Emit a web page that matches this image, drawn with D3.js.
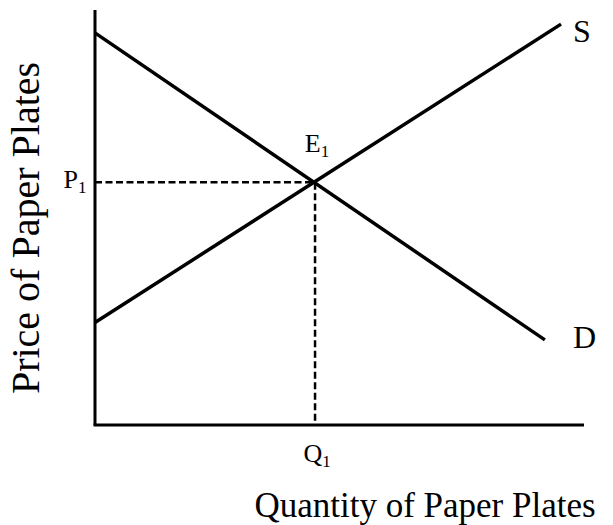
<!DOCTYPE html>
<html>
<head>
<meta charset="utf-8">
<script src="https://cdn.jsdelivr.net/npm/d3@7/dist/d3.min.js"></script>
<style>
  body { margin: 0; background: #fff; }
  text { font-family: 'Liberation Serif', 'Times New Roman', serif; fill: #000; }
</style>
</head>
<body>
<div id="chart"></div>
<script>
// curves in data units (0-100 on both axes)
const demand = [[0, 94.5], [92, 20.5]]
const supply = [[0, 24.7], [95.3, 96.6]]
const equilibrium = [45, 58.5]
const curveLabels = ['S', 'D']
const pointLabel = 'E'
const priceLabel = 'P'
const qtyLabel = 'Q'
const xAxisLabel = 'Quantity of Paper Plates'
const yAxisLabel = 'Price of Paper Plates'

const width = 613
const height = 525
const margin = { top: 10, right: 29, bottom: 100, left: 95 }

const x = d3.scaleLinear()
  .domain([0, 100])
  .range([margin.left, width - margin.right])

const y = d3.scaleLinear()
  .domain([0, 100])
  .range([height - margin.bottom, margin.top])

const svg = d3.select('#chart').append('svg')
  .attr('width', width)
  .attr('height', height)

const line = d3.line().x(d => x(d[0])).y(d => y(d[1]))

// axes
svg.append('line')
  .attr('x1', x(0)).attr('y1', y(0))
  .attr('x2', x(0)).attr('y2', y(100))
  .attr('stroke', '#000').attr('stroke-width', 3)
svg.append('line')
  .attr('x1', x(0) - 1.5).attr('y1', y(0))
  .attr('x2', x(100)).attr('y2', y(0))
  .attr('stroke', '#000').attr('stroke-width', 3)

// dashed guides
svg.append('path')
  .attr('d', line([[0, equilibrium[1]], equilibrium, [equilibrium[0], 0]]))
  .attr('fill', 'none')
  .attr('stroke', '#000')
  .attr('stroke-width', 2.5)
  .attr('stroke-dasharray', '7,3.5')

svg.selectAll('.curve')
  .data([supply, demand]).enter()
  .append('path')
  .attr('class', 'curve')
  .attr('d', d => line(d))
  .attr('fill', 'none')
  .attr('stroke', '#000')
  .attr('stroke-width', 3.5)

// curve labels
svg.selectAll('.clabel')
  .data([supply, demand]).enter()
  .append('text')
  .attr('class', 'clabel')
  .attr('x', 573)
  .attr('y', (d, i) => y(d[1][1]) + (i === 0 ? 18 : 8))
  .attr('font-size', 32)
  .text((d, i) => curveLabels[i])

function subLabel (txt, px, py, anchor) {
  const t = svg.append('text')
    .attr('x', px).attr('y', py)
    .attr('font-size', 26)
    .attr('text-anchor', anchor)
  t.append('tspan').text(txt)
  t.append('tspan').attr('font-size', 17).attr('dy', 5).text('1')
}

subLabel(pointLabel, x(equilibrium[0]) + 2, y(equilibrium[1]) - 30, 'middle')
subLabel(priceLabel, x(0) - 20, y(equilibrium[1]) + 6, 'middle')
subLabel(qtyLabel, x(equilibrium[0]) + 2, y(0) + 37, 'middle')

// axis titles
svg.append('text')
  .attr('x', 425)
  .attr('y', 517)
  .attr('text-anchor', 'middle')
  .attr('font-size', 35)
  .text(xAxisLabel)

svg.append('text')
  .attr('transform', 'translate(39,228) rotate(-90)')
  .attr('text-anchor', 'middle')
  .attr('font-size', 40)
  .text(yAxisLabel)
</script>
</body>
</html>
